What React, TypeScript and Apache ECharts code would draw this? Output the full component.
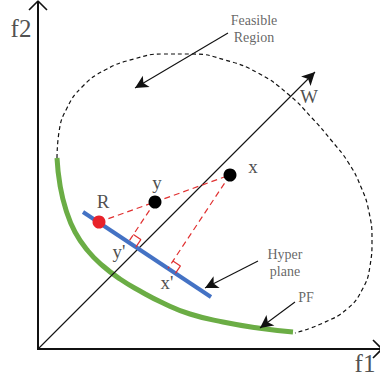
import React, { useEffect, useRef } from "react";
import * as echarts from "echarts";

// Diagram geometry (pixel-like data units, y grows downward)
const f2Axis = [[38, 350], [38, 1]];
const f1Axis = [[37, 349], [381, 349]];
const f2Chevron = [[29, 10], [38, 1], [47, 10]];
const f1Chevron = [[373, 340], [382, 349], [373, 358]];
const wVector = [[38, 349], [315, 72]];
const feasibleBoundary = [
  [57, 158], [59, 132], [67, 108], [82, 87], [105, 70], [134, 59], [163, 54],
  [192, 54], [225, 60], [258, 73], [288, 94], [312, 118], [331, 140],
  [348, 162], [361, 187], [369, 212], [372, 240], [370, 266], [362, 290],
  [347, 309], [323, 323], [295, 333],
];
const paretoFront = [
  [57, 158], [60, 185], [66, 210], [75, 232], [88, 251], [103, 266], [120, 279],
  [140, 291], [163, 303], [190, 314], [223, 322], [258, 328], [293, 332],
];
const hyperplane = [[83, 212], [211, 297]];
const pointR = [99, 222];
const pointY = [155, 202];
const pointX = [230, 175];
const feasibleArrow = [[228, 33], [135, 88]];
const hyperArrow = [[258, 261], [205, 288]];
const pfArrow = [[295, 302], [260, 328]];

const bigLabels = ["f2", "f1"];
const bigLabelPos = [[21, 28], [365, 363]];
const pointLabels = ["W", "x", "y", "R", "y'", "x'"];
const pointLabelPos = [[309, 96], [253, 166], [157, 182], [103, 201], [119, 251], [167, 282]];
const noteLabels = ["Feasible\nRegion", "Hyper\nplane", "PF"];
const noteLabelPos = [[254, 29], [285, 263], [306, 297]];

const SERIF = "'Liberation Serif', 'Times New Roman', serif";

function foot(p: number[]) {
  const [a, b] = hyperplane;
  const dx = b[0] - a[0];
  const dy = b[1] - a[1];
  const L = Math.hypot(dx, dy);
  const ux = dx / L, uy = dy / L;
  const t = (p[0] - a[0]) * ux + (p[1] - a[1]) * uy;
  return [a[0] + t * ux, a[1] + t * uy];
}

function rightAngle(p: number[], s: number) {
  const [a, b] = hyperplane;
  const dx = b[0] - a[0];
  const dy = b[1] - a[1];
  const L = Math.hypot(dx, dy);
  const ux = dx / L, uy = dy / L;
  const f = foot(p);
  const nx0 = p[0] - f[0], ny0 = p[1] - f[1];
  const nL = Math.hypot(nx0, ny0);
  const nx = nx0 / nL, ny = ny0 / nL;
  return [
    [f[0] + s * nx, f[1] + s * ny],
    [f[0] + s * (nx + ux), f[1] + s * (ny + uy)],
    [f[0] + s * ux, f[1] + s * uy],
  ];
}

function labelSeries(names: string[], pos: number[][], fontSize: number, color: string, lineHeight?: number) {
  return {
    type: "scatter",
    silent: true,
    symbolSize: 1,
    itemStyle: { color: "rgba(0,0,0,0)" },
    z: 20,
    data: names.map((n, i) => ({ name: n, value: pos[i] })),
    label: {
      show: true,
      position: "inside",
      formatter: (p: any) => p.name,
      fontFamily: SERIF,
      fontSize,
      color,
      align: "center",
      verticalAlign: "middle",
      lineHeight: lineHeight || fontSize * 1.2,
    },
    emphasis: { disabled: true },
  };
}

function plainLine(data: number[][], color: string, width: number, extra: any = {}) {
  return {
    type: "line",
    silent: true,
    showSymbol: false,
    symbol: "none",
    data,
    lineStyle: { color, width, ...(extra.lineStyle || {}) },
    smooth: extra.smooth || false,
    z: extra.z || 2,
    emphasis: { disabled: true },
  };
}

export default function App() {
  const ref = useRef<HTMLDivElement>(null);
  useEffect(() => {
    if (!ref.current) return;
    const chart = echarts.init(ref.current, undefined, { renderer: "svg" });
    const redDash = { type: [6, 4] };
    const arrowMark = (pair: number[][]) => [{ coord: pair[0] }, { coord: pair[1] }];
    chart.setOption({
      animation: false,
      backgroundColor: "#ffffff",
      grid: { left: 0, right: 0, top: 0, bottom: 0 },
      xAxis: { type: "value", min: 0, max: 380, show: false },
      yAxis: { type: "value", min: 0, max: 383, inverse: true, show: false },
      series: [
        plainLine(f2Axis, "#111", 2),
        plainLine(f1Axis, "#111", 2),
        plainLine(f2Chevron, "#111", 1.6),
        plainLine(f1Chevron, "#111", 1.6),
        plainLine(feasibleBoundary, "#111", 1.2, { smooth: 0.5, lineStyle: { type: [4, 3] } }),
        plainLine(paretoFront, "#6BAD45", 5, { smooth: 0.5, z: 4 }),
        {
          type: "line",
          silent: true,
          data: [],
          z: 3,
          markLine: {
            silent: true,
            symbol: ["none", "arrow"],
            symbolSize: [10, 13],
            label: { show: false },
            lineStyle: { color: "#111", width: 1.1, type: "solid" },
            emphasis: { disabled: true },
            data: [arrowMark(wVector), arrowMark(feasibleArrow), arrowMark(hyperArrow), arrowMark(pfArrow)],
          },
        },
        plainLine(hyperplane, "#4472C4", 4, { z: 5 }),
        plainLine([pointR, pointY], "#E03030", 1.2, { z: 6, lineStyle: redDash }),
        plainLine([pointY, pointX], "#E03030", 1.2, { z: 6, lineStyle: redDash }),
        plainLine([pointY, foot(pointY)], "#E03030", 1.2, { z: 6, lineStyle: redDash }),
        plainLine([pointX, foot(pointX)], "#E03030", 1.2, { z: 6, lineStyle: redDash }),
        plainLine(rightAngle(pointY, 9), "#E03030", 1.2, { z: 6 }),
        plainLine(rightAngle(pointX, 9), "#E03030", 1.2, { z: 6 }),
        {
          type: "scatter",
          silent: true,
          z: 8,
          symbolSize: 13,
          data: [
            { value: pointR, itemStyle: { color: "#E8222A", opacity: 1 } },
            { value: pointY, itemStyle: { color: "#000", opacity: 1 } },
            { value: pointX, itemStyle: { color: "#000", opacity: 1 } },
          ],
          emphasis: { disabled: true },
        },
        labelSeries(bigLabels, bigLabelPos, 25, "#222"),
        labelSeries(pointLabels, pointLabelPos, 19, "#222"),
        labelSeries(noteLabels, noteLabelPos, 14, "#404040", 17),
      ],
    });
    return () => chart.dispose();
  }, []);
  return (
    <div
      ref={ref}
      style={{ position: "absolute", left: 0, top: 0, width: 380, height: 383 }}
    />
  );
}
